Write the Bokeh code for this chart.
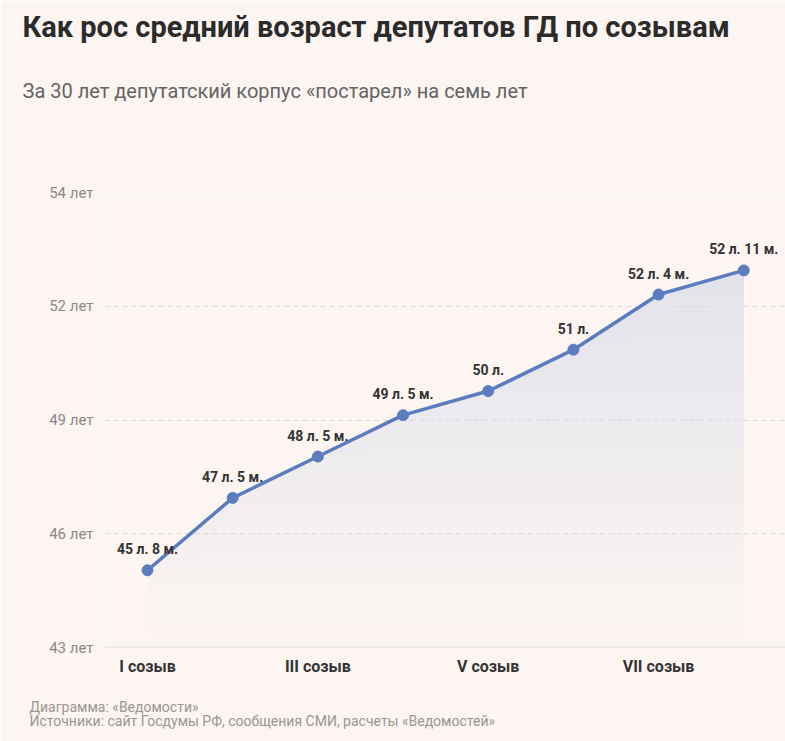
import numpy as np

from bokeh.core.properties import value
from bokeh.embed import file_html
from bokeh.models import CustomJSTickFormatter, FixedTicker, Range1d, Span, Title
from bokeh.plotting import figure
from bokeh.resources import INLINE

# data
convocations = ["I", "II", "III", "IV", "V", "VI", "VII", "VIII"]
ages = [45 + 8 / 12, 47 + 5 / 12, 48 + 5 / 12, 49 + 5 / 12, 50.0, 51.0, 52 + 4 / 12, 52 + 11 / 12]
age_labels = ["45 л. 8 м.", "47 л. 5 м.", "48 л. 5 м.", "49 л. 5 м.", "50 л.", "51 л.",
              "52 л. 4 м.", "52 л. 11 м."]
y_tick_labels = ["43 лет", "46 лет", "49 лет", "52 лет", "54 лет"]
x_tick_idx = [0, 2, 4, 6]

title = "Как рос средний возраст депутатов ГД по созывам"
subtitle = "За 30 лет депутатский корпус «постарел» на семь лет"
credit = "Диаграмма: «Ведомости»"
sources = "Источники: сайт Госдумы РФ, сообщения СМИ, расчеты «Ведомостей»"

BG = "#fcf5f2"
LINE = "#5b7cbf"
FONT = "Roboto"
AREA_TOP = (226, 227, 235)
AREA_BOTTOM = (252, 245, 242)

y_min, y_max = 43.8, 54.8
idx = np.arange(len(convocations))
ages = np.array(ages)

p = figure(width=785, height=741, output_backend="svg", toolbar_location=None,
           x_range=Range1d(-0.505, 7.49), y_range=Range1d(y_min, y_max),
           min_border_left=104, min_border_right=0, min_border_top=192,
           min_border_bottom=94)
p.background_fill_color = BG
p.border_fill_color = BG
p.outline_line_color = None
p.xgrid.grid_line_color = None
p.ygrid.grid_line_color = "#dcd9d7"
p.ygrid.grid_line_dash = "5 4"
p.ygrid.grid_line_width = 1

# y axis: evenly spaced ticks, labels as printed
p.yaxis.ticker = FixedTicker(ticks=list(np.linspace(y_min, y_max, len(y_tick_labels))))
p.yaxis.formatter = CustomJSTickFormatter(args=dict(labels=y_tick_labels),
                                          code="return labels[index]")
p.yaxis.axis_line_color = None
p.yaxis.major_tick_line_color = None
p.yaxis.minor_tick_line_color = None
p.yaxis.major_tick_out = 0
p.yaxis.major_label_standoff = 11
p.yaxis.major_label_text_font = FONT
p.yaxis.major_label_text_font_size = "15px"
p.yaxis.major_label_text_color = "#8c8886"

p.xaxis.ticker = FixedTicker(ticks=x_tick_idx)
p.xaxis.major_label_overrides = {i: f"{convocations[i]} созыв" for i in x_tick_idx}
p.xaxis.axis_line_color = None
p.xaxis.major_tick_line_color = None
p.xaxis.minor_tick_line_color = None
p.xaxis.major_tick_out = 0
p.xaxis.major_label_standoff = 9
p.xaxis.major_label_text_font = FONT
p.xaxis.major_label_text_font_size = "16px"
p.xaxis.major_label_text_font_style = "bold"
p.xaxis.major_label_text_color = "#333333"

p.add_layout(Span(location=y_min, dimension="width", line_color="#dedad8", line_width=2))

# area under the line as a vertical gradient: opaque bands, each one a bit
# darker and starting higher, drawn beneath the grid
top = ages.max()
c0, c1 = np.array(AREA_BOTTOM), np.array(AREA_TOP)
for lv in np.linspace(y_min, top, 30, endpoint=False):
    t = (lv - y_min) / (top - y_min)
    r, g, b = np.round(c0 + t * (c1 - c0)).astype(int)
    band = p.varea(x=idx, y1=np.minimum(lv, ages), y2=ages,
                   fill_color=f"#{r:02x}{g:02x}{b:02x}")
    band.level = "image"

p.line(idx, ages, line_color=LINE, line_width=3.5, line_join="round")
p.scatter(idx, ages, size=11, fill_color=LINE, line_color=LINE)

p.text(idx, ages, text=age_labels, y_offset=-21, text_align="center",
       text_baseline="middle", text_font=value(FONT), text_font_size="14px",
       text_font_style="bold", text_color="#333333")


def spacer(gap):
    # blank title used only to push the next one away from the plot
    return Title(text=" ", text_font_size="10px", standoff=gap)


def caption(text, size, color, style="normal", offset=-82, standoff=0):
    return Title(text=text, align="left", offset=offset, standoff=standoff,
                 text_font=FONT, text_font_size=size, text_font_style=style,
                 text_color=color)


# header: panels stack outward from the plot
p.add_layout(spacer(77), "above")
p.add_layout(caption(subtitle, "20px", "#646464"), "above")
p.add_layout(spacer(20), "above")
p.add_layout(caption(title, "29px", "#2b2b2b", "bold"), "above")

# footer under the x axis
p.add_layout(spacer(5), "below")
p.add_layout(caption(credit, "14px", "#9a9694", offset=-75), "below")
p.add_layout(caption(sources, "14px", "#9a9694", offset=-75, standoff=-8), "below")

open("out.html", "w").write(file_html(p, INLINE))
